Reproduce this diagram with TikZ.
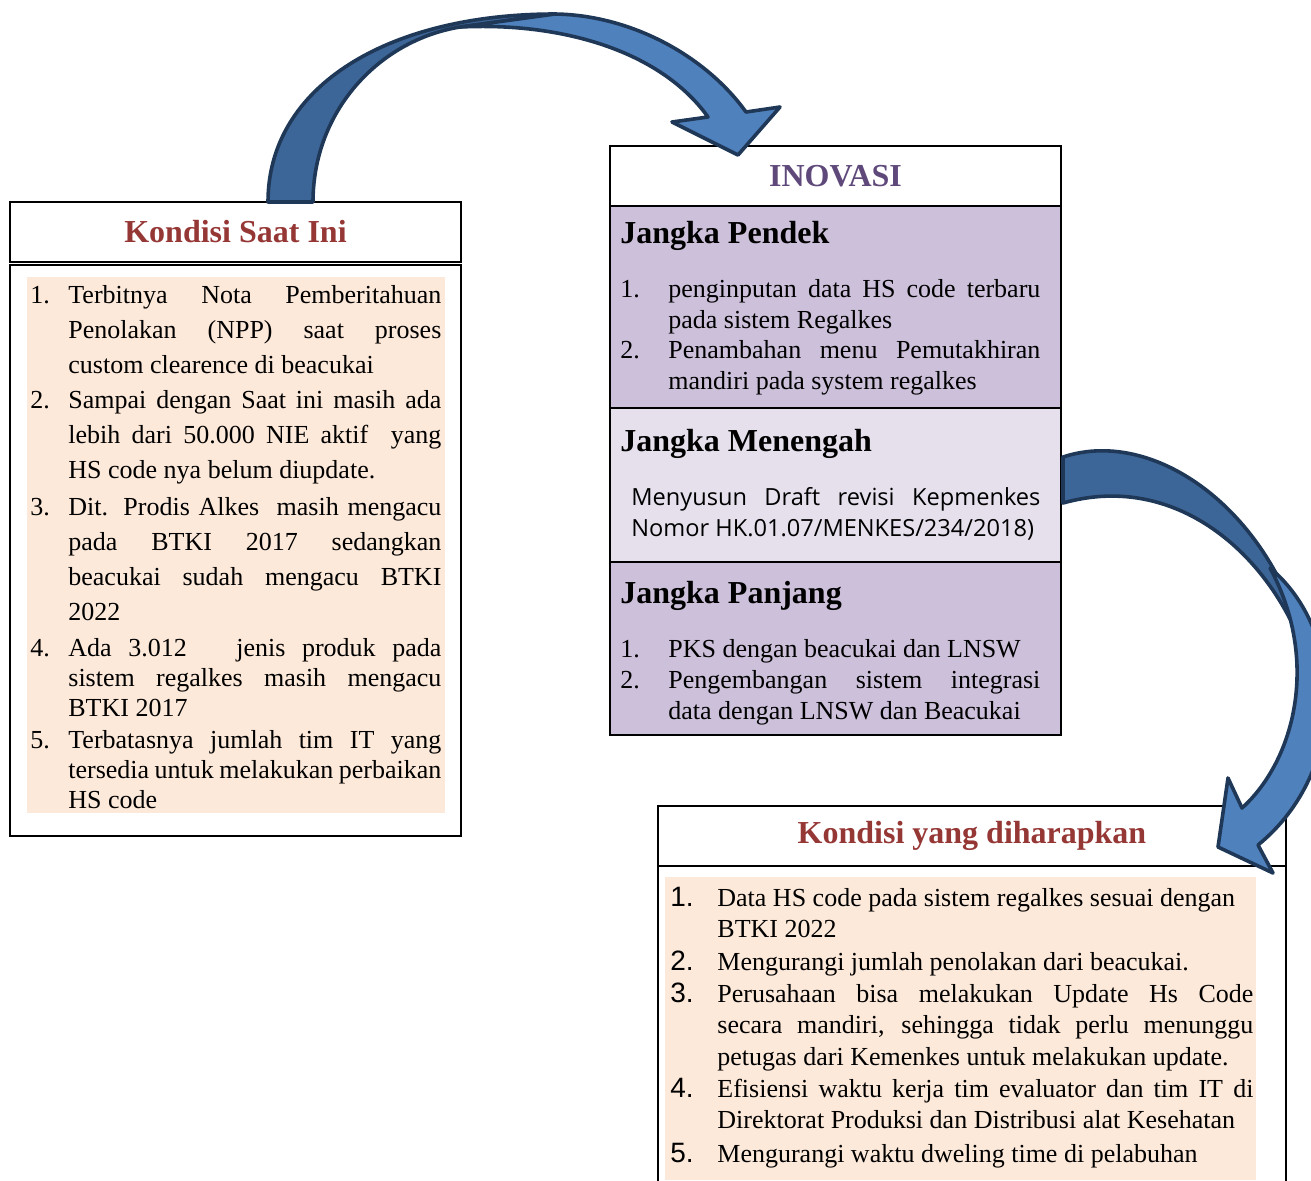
\documentclass[tikz,border=0pt]{standalone}
\usepackage{fontspec}
\setmainfont{Liberation Serif}
\newfontfamily\draftfont{Open Sans}
\newfontfamily\numfont{Liberation Sans}
\usetikzlibrary{positioning}

\definecolor{titlered}{HTML}{953735}
\definecolor{inopurple}{HTML}{5F497A}
\definecolor{peach}{HTML}{FDE9D9}
\definecolor{lilac}{HTML}{CCC0DA}
\definecolor{lavender}{HTML}{E5E0EC}
\definecolor{arrowfront}{HTML}{4F81BD}
\definecolor{arrowback}{HTML}{3D6698}
\definecolor{arrowline}{HTML}{1F3857}

\tikzset{
    box/.style={draw, line width=1pt, inner sep=0pt, outer sep=0pt, anchor=north west},
    boxtitle/.style={font=\fontsize{16}{19}\selectfont\bfseries},
    parthead/.style={anchor=base west, inner sep=0pt, font=\fontsize{16}{19}\selectfont\bfseries},
    num/.style={anchor=base west, inner sep=0pt, font=\fontsize{13}{15}\selectfont},
    bignum/.style={anchor=base west, inner sep=0pt, font=\fontsize{14}{16}\numfont},
    itemtext/.style={anchor=base west, inner sep=0pt, text width=#1, align=justify},
    bigarrow/.style={draw=arrowline, line width=1.8pt, line join=round},
}

\begin{document}
\begin{tikzpicture}[x=0.5pt,y=-0.5pt]
    \useasboundingbox (0,0) rectangle (1311,1180);
    \clip (0,0) rectangle (1311,1180);

    % kondisi saat ini
    \node[box, minimum width=225.5pt, minimum height=30pt, boxtitle, text=titlered]
        (nowtitle) at (10,202) {Kondisi Saat Ini};
    \node[box, minimum width=225.5pt, minimum height=285.5pt] (nowbody) at (10,265) {};
    \fill[peach] (27,277) rectangle (445,813);

    % inovasi
    \node[box, minimum width=225.5pt, minimum height=30pt, boxtitle, text=inopurple]
        (inotitle) at (610,146) {INOVASI};
    \node[box, fill=lilac, minimum width=225.5pt, minimum height=101pt]
        (pendek) at (inotitle.south west) {};
    \node[box, fill=lavender, minimum width=225.5pt, minimum height=77pt]
        (menengah) at (pendek.south west) {};
    \node[box, fill=lilac, minimum width=225.5pt, minimum height=86.5pt]
        (panjang) at (menengah.south west) {};

    % kondisi yang diharapkan
    \node[box, minimum width=314pt, minimum height=30pt, boxtitle, text=titlered]
        (hopetitle) at (658,806) {Kondisi yang diharapkan};
    \node[box, minimum width=314pt, minimum height=170pt] (hopebody) at (hopetitle.south west) {};
    \fill[peach] (665,877) rectangle (1256,1180);

    % list kondisi saat ini
    \begin{scope}[font=\fontsize{13}{17.5}\selectfont]
        \node[num] (now1n) at (30,303) {1.};
        \node[itemtext=186.5pt] (now1) at (68,303) {Terbitnya Nota Pemberitahuan\linebreak
            Penolakan (NPP) saat proses\linebreak custom clearence di beacukai};
        \node[num] (now2n) at (30,408) {2.};
        \node[itemtext=186.5pt] (now2) at (68,408) {Sampai dengan Saat ini masih ada\linebreak
            lebih dari 50.000 NIE aktif\ \ yang\linebreak HS code nya belum diupdate.};
        \node[num] (now3n) at (30,515) {3.};
        \node[itemtext=186.5pt] (now3) at (68,515) {Dit. Prodis Alkes\ \ masih mengacu\linebreak
            pada BTKI 2017 sedangkan\linebreak beacukai sudah mengacu BTKI\linebreak 2022};
    \end{scope}
    \begin{scope}[font=\fontsize{13}{15}\selectfont]
        \node[num] (now4n) at (30,656) {4.};
        \node[itemtext=186.5pt] (now4) at (68,656) {Ada 3.012\ \ \ jenis produk pada\linebreak
            sistem regalkes masih mengacu\linebreak BTKI 2017};
        \node[num] (now5n) at (30,748) {5.};
        \node[itemtext=186.5pt] (now5) at (68,748) {Terbatasnya jumlah tim IT yang\linebreak
            tersedia untuk melakukan perbaikan\linebreak HS code};
    \end{scope}

    % jangka pendek, menengah, panjang
    \node[parthead] (pendekhead) at (620,243) {Jangka Pendek};
    \node[parthead] (menengahhead) at (620,451) {Jangka Menengah};
    \node[parthead] (panjanghead) at (620,603) {Jangka Panjang};
    \begin{scope}[font=\fontsize{13}{15.5}\selectfont]
        \node[num] (pen1n) at (620,297) {1.};
        \node[itemtext=186pt] (pen1) at (668,297) {penginputan data HS code terbaru\linebreak
            pada sistem Regalkes};
        \node[num] (pen2n) at (620,358) {2.};
        \node[itemtext=186pt] (pen2) at (668,358) {Penambahan menu Pemutakhiran\linebreak
            mandiri pada system regalkes};
        \node[num] (pan1n) at (620,657) {1.};
        \node[itemtext=186pt] (pan1) at (668,657) {PKS dengan beacukai dan LNSW};
        \node[num] (pan2n) at (620,688) {2.};
        \node[itemtext=186pt] (pan2) at (668,688) {Pengembangan sistem integrasi\linebreak
            data dengan LNSW dan Beacukai};
    \end{scope}
    \node[itemtext=204.5pt, font=\fontsize{11.8}{15.5}\draftfont]
        (draft) at (631,505) {Menyusun Draft revisi Kepmenkes\linebreak
        Nomor HK.01.07/MENKES/234/2018)};

    % list kondisi yang diharapkan
    \begin{scope}[font=\fontsize{13}{15.75}\selectfont]
        \node[bignum] (hope1n) at (670,906) {1.};
        \node[itemtext=268pt] (hope1) at (717,906) {Data HS code pada sistem regalkes sesuai dengan\newline
            BTKI 2022};
        \node[bignum] (hope2n) at (670,970) {2.};
        \node[itemtext=268pt] (hope2) at (717,970) {Mengurangi jumlah penolakan dari beacukai.};
        \node[bignum] (hope3n) at (670,1002) {3.};
        \node[itemtext=268pt] (hope3) at (717,1002) {Perusahaan bisa melakukan Update Hs Code\linebreak
            secara mandiri, sehingga tidak perlu menunggu\linebreak
            petugas dari Kemenkes untuk melakukan update.};
        \node[bignum] (hope4n) at (670,1097) {4.};
        \node[itemtext=268pt] (hope4) at (717,1097) {Efisiensi waktu kerja tim evaluator dan tim IT di\linebreak
            Direktorat Produksi dan Distribusi alat Kesehatan};
        \node[bignum] (hope5n) at (670,1162) {5.};
        \node[itemtext=268pt] (hope5) at (717,1162) {Mengurangi waktu dweling time di pelabuhan};
    \end{scope}

    % curved arrow: kondisi saat ini -> inovasi
    \filldraw[bigarrow, fill=arrowback]
        (268,202) .. controls (268,85) and (390,14) .. (555,14)
        -- (460,27) .. controls (380,40) and (313,110) .. (313,202) -- cycle;
    \filldraw[bigarrow, fill=arrowfront]
        (555,14) .. controls (630,15) and (705,55) .. (746,112)
        -- (780,107) -- (738,155) -- (672,122) -- (708,117)
        .. controls (660,50) and (560,22) .. (460,27) -- cycle;

    % curved arrow: inovasi -> kondisi yang diharapkan
    \filldraw[bigarrow, fill=arrowback]
        (1063,457) .. controls (1160,425) and (1280,520) .. (1307,660)
        .. controls (1275,560) and (1180,470) .. (1063,503) -- cycle;
    \filldraw[bigarrow, fill=arrowfront]
        (1270,568) .. controls (1345,630) and (1350,770) .. (1258,845)
        -- (1273,873) -- (1218,847) -- (1228,778) -- (1242,808)
        .. controls (1295,760) and (1320,660) .. (1270,568) -- cycle;
\end{tikzpicture}
\end{document}
